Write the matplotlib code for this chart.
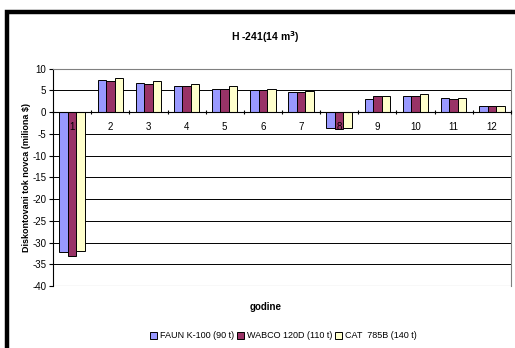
import matplotlib
matplotlib.use("Agg")
import matplotlib.pyplot as plt
import numpy as np
from matplotlib.patches import Rectangle

plt.rcParams['font.family'] = ['Liberation Sans', 'DejaVu Sans']

categories = ['1', '2', '3', '4', '5', '6', '7', '8', '9', '10', '11', '12']
faun = [-32.2, 7.35, 6.6, 6.1, 5.4, 5.1, 4.6, -3.6, 3.1, 3.75, 3.3, 1.4]
wabco = [-33.1, 7.2, 6.4, 6.0, 5.4, 5.0, 4.6, -3.9, 3.6, 3.75, 3.1, 1.4]
cat = [-32.0, 7.8, 7.1, 6.4, 5.9, 5.4, 4.9, -3.6, 3.75, 4.1, 3.3, 1.5]
series_names = ['FAUN K-100 (90 t)', 'WABCO 120D (110 t)', 'CAT  785B (140 t)']
colors = ['#9999FF', '#993366', '#FFFFCC']
yticks = list(range(-40, 11, 5))

fig = plt.figure(figsize=(5.15, 3.48), dpi=100)
ax = fig.add_axes([0.103, 0.178, 0.889, 0.625])

x = np.arange(1, len(categories) + 1)
w = 1 / 4.5
for i, (vals, name, c) in enumerate(zip([faun, wabco, cat], series_names, colors)):
    ax.bar(x + (i - 1) * w, vals, width=w, color=c, edgecolor='black',
           linewidth=0.7, label=name, zorder=2)

ax.set_xlim(0.5, 12.5)
ax.set_ylim(-40, 10)
ax.set_yticks(yticks)
ax.set_yticklabels([str(t) for t in yticks], fontsize=7)
for t in yticks:
    if t not in (0, 10):
        ax.axhline(t, color='black', linewidth=0.7, zorder=1)

for s in ['top', 'right']:
    ax.spines[s].set_color('#808080')
    ax.spines[s].set_linewidth(0.8)
ax.spines['left'].set_color('black')
ax.spines['left'].set_linewidth(0.8)
ax.spines['bottom'].set_position(('data', 0))
ax.spines['bottom'].set_color('black')
ax.spines['bottom'].set_linewidth(0.8)
ax.spines['bottom'].set_zorder(4)
ax.axhline(-40, color='#808080', linewidth=0.8, zorder=1)

ax.set_xticks(x)
ax.set_xticklabels(categories, fontsize=7)
ax.tick_params(axis='x', which='major', length=0, pad=7)
ax.set_xticks(np.arange(0.5, 12.6, 1), minor=True)
ax.tick_params(axis='x', which='minor', length=3, direction='inout', width=0.8)
ax.tick_params(axis='y', length=3, width=0.8, pad=2)
ax.xaxis.set_zorder(5)

ax.set_ylabel('Diskontovani tok novca (miliona $)', fontsize=6.5,
              fontweight='bold', labelpad=1)
fig.text(0.515, 0.118, 'godine', fontsize=7, fontweight='bold', ha='center', va='center')
fig.text(0.515, 0.893, r'H -241(14 m$^\mathbf{3}$)', fontsize=7.5, fontweight='bold',
         ha='center', va='center')

leg = fig.legend(loc='center', bbox_to_anchor=(0.55, 0.035), ncol=3, frameon=False,
                 fontsize=6.5, handlelength=0.8, handleheight=0.8, handletextpad=0.3,
                 columnspacing=0.3)

fig.patches.append(Rectangle((7 / 515, -0.1), 1.2, 1 - 11.5 / 348 + 0.1,
                             transform=fig.transFigure, fill=False,
                             edgecolor='black', linewidth=3.2, figure=fig))

fig.savefig('out.png', dpi=100)
